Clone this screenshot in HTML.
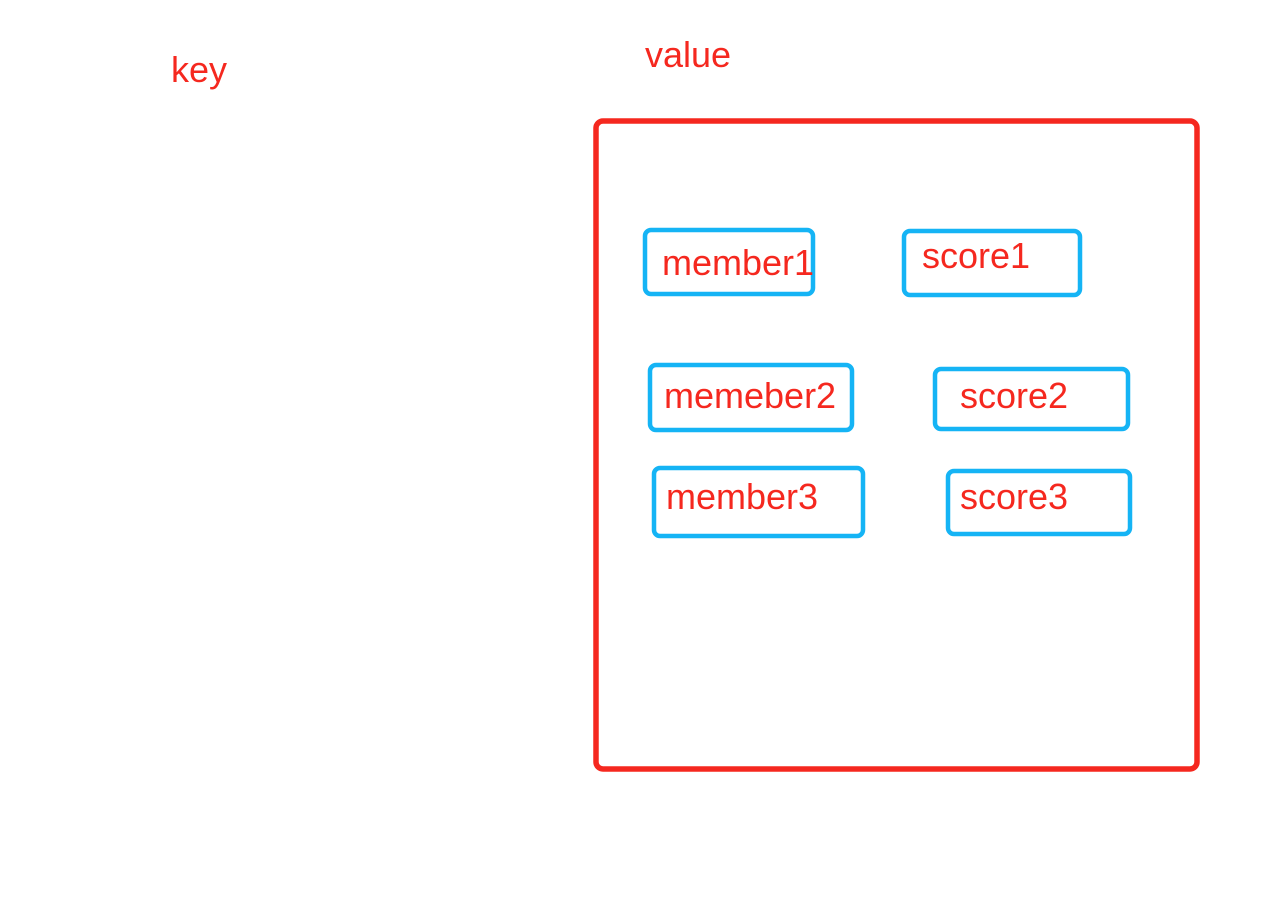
<!DOCTYPE html>
<html>
<head>
<meta charset="utf-8">
<style>
html,body{margin:0;padding:0;background:#fff;}
svg{display:block;}
text{font-family:"Liberation Sans",sans-serif;fill:#f5281f;font-size:36px;}
</style>
</head>
<body>
<svg width="1282" height="902" viewBox="0 0 1282 902" xmlns="http://www.w3.org/2000/svg">
<rect x="0" y="0" width="1282" height="902" fill="#fff"/>
<text x="171" y="82">key</text>
<text x="645" y="67">value</text>
<rect x="596" y="121" width="601" height="648" rx="7" fill="none" stroke="#f5281f" stroke-width="5.5"/>
<g fill="none" stroke="#15b4f5" stroke-width="4.5">
<rect x="645" y="230" width="168" height="64" rx="6"/>
<rect x="904" y="231" width="176" height="64" rx="6"/>
<rect x="650" y="365" width="202" height="65" rx="6"/>
<rect x="935" y="369" width="193" height="60" rx="6"/>
<rect x="654" y="468" width="209" height="68" rx="6"/>
<rect x="948" y="471" width="182" height="63" rx="6"/>
</g>
<text x="662" y="275">member1</text>
<text x="922" y="268">score1</text>
<text x="664" y="408">memeber2</text>
<text x="960" y="408">score2</text>
<text x="666" y="509">member3</text>
<text x="960" y="509">score3</text>
</svg>
</body>
</html>
